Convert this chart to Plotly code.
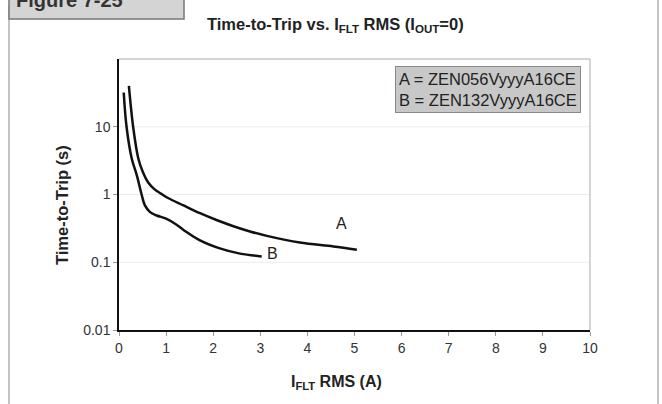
import math
import plotly.graph_objects as go

# Data
a_current = [0.21, 0.30, 0.41, 0.50, 0.62, 0.75, 0.90, 1.05, 1.37, 1.72, 2.07, 2.43, 2.78, 3.14, 3.84, 4.55, 5.05]
a_time = [40, 10, 3.4, 2.2, 1.5, 1.2, 1.02, 0.88, 0.69, 0.53, 0.42, 0.34, 0.285, 0.245, 0.195, 0.171, 0.153]

b_current = [0.10, 0.16, 0.27, 0.38, 0.48, 0.55, 0.66, 0.80, 1.00, 1.19, 1.37, 1.72, 2.14, 2.57, 3.03]
b_time = [32, 10, 3.4, 1.9, 1.0, 0.69, 0.55, 0.49, 0.44, 0.37, 0.30, 0.21, 0.16, 0.134, 0.122]

x_ticks = list(range(0, 11))
y_ticks = [0.01, 0.1, 1, 10]
y_tick_text = ["0.01", "0.1", "1", "10"]
grid_vals = [0.1, 1, 10]

legend_text = "A = ZEN056VyyyA16CE<br>B = ZEN132VyyyA16CE"
label_a = ("A", 4.73, 0.37)
label_b = ("B", 3.26, 0.136)

FONT = "Liberation Sans, Arial, sans-serif"

fig = go.Figure()
fig.add_trace(go.Scatter(x=a_current, y=a_time, mode="lines", line=dict(color="#111", width=2.5, shape="spline"), showlegend=False))
fig.add_trace(go.Scatter(x=b_current, y=b_time, mode="lines", line=dict(color="#111", width=2.5, shape="spline"), showlegend=False))

fig.update_layout(
    width=662, height=404,
    margin=dict(l=119, r=72, t=59, b=74),
    paper_bgcolor="white", plot_bgcolor="white",
    font=dict(family=FONT, color="#333", size=14),
)
fig.update_xaxes(range=[0, 10], tickvals=x_ticks, ticks="outside", ticklen=4, tickcolor="#999",
                 showgrid=False, zeroline=False, showline=True, linecolor="#111", linewidth=1.5,
                 tickfont=dict(size=14, color="#333"))
fig.update_yaxes(type="log", range=[-2, 2], tickvals=y_ticks, ticktext=y_tick_text, ticks="outside",
                 ticklen=4, tickcolor="#999", showgrid=False, zeroline=False, showline=True,
                 linecolor="#111", linewidth=1.5, tickfont=dict(size=14, color="#333"))

def px(x):
    return (x - 119) / 471

def py(y):
    return (330 - y) / 271

shapes = []
for g in grid_vals:
    shapes.append(dict(type="line", xref="paper", yref="y", x0=0, x1=1, y0=g, y1=g,
                       line=dict(color="#ececec", width=1), layer="below"))
# top and right plot borders (light)
shapes.append(dict(type="line", xref="paper", yref="paper", x0=0, x1=1, y0=1, y1=1, line=dict(color="#aaa", width=1)))
shapes.append(dict(type="line", xref="paper", yref="paper", x0=1, x1=1, y0=0, y1=1, line=dict(color="#aaa", width=1)))
# outer frame lines
shapes.append(dict(type="line", xref="paper", yref="paper", x0=px(9), x1=px(9), y0=py(404), y1=py(6),
                   line=dict(color="#c4c4c4", width=2)))
shapes.append(dict(type="line", xref="paper", yref="paper", x0=px(658), x1=px(658), y0=py(404), y1=py(0),
                   line=dict(color="#c4c4c4", width=2)))
# figure label box (cut at top)
shapes.append(dict(type="rect", xref="paper", yref="paper", x0=px(9), x1=px(184),
                   y0=py(19), y1=py(-5), fillcolor="#d4d4d4", line=dict(color="#777", width=1.5)))
fig.update_layout(shapes=shapes)

ann = [
    dict(text="<b>Time-to-Trip vs. I<sub>FLT</sub> RMS (I<sub>OUT</sub>=0)</b>", x=px(335), y=py(25),
         xref="paper", yref="paper", xanchor="center", yanchor="middle", showarrow=False,
         font=dict(size=16.5, color="#222")),
    dict(text="<b>I<sub>FLT</sub> RMS (A)</b>", x=px(336), y=py(382), xref="paper", yref="paper",
         xanchor="center", yanchor="middle", showarrow=False, font=dict(size=16, color="#222")),
    dict(text="<b>Time-to-Trip (s)</b>", x=px(62), y=py(205), xref="paper", yref="paper",
         xanchor="center", yanchor="middle", showarrow=False, textangle=-90, font=dict(size=16.5, color="#222")),
    dict(text=legend_text, x=px(581), y=py(66), xref="paper", yref="paper", xanchor="right", yanchor="top",
         showarrow=False, align="left", bgcolor="#c8c8c8", bordercolor="#888", borderwidth=1, borderpad=3,
         font=dict(size=16.5, color="#222")),
    dict(text=label_a[0], x=label_a[1], y=math.log10(label_a[2]), xref="x", yref="y", showarrow=False,
         font=dict(size=16, color="#222")),
    dict(text=label_b[0], x=label_b[1], y=math.log10(label_b[2]), xref="x", yref="y", showarrow=False,
         font=dict(size=16, color="#222")),
    dict(text="<b>Figure 7-25</b>", x=px(14), y=py(13), xref="paper", yref="paper", xanchor="left", yanchor="bottom",
         showarrow=False, font=dict(size=20, color="#333")),
]
fig.update_layout(annotations=ann)

fig.write_html("out.html", config={"displayModeBar": False},
               post_script="document.body.style.margin='0';document.body.style.overflow='hidden';")
